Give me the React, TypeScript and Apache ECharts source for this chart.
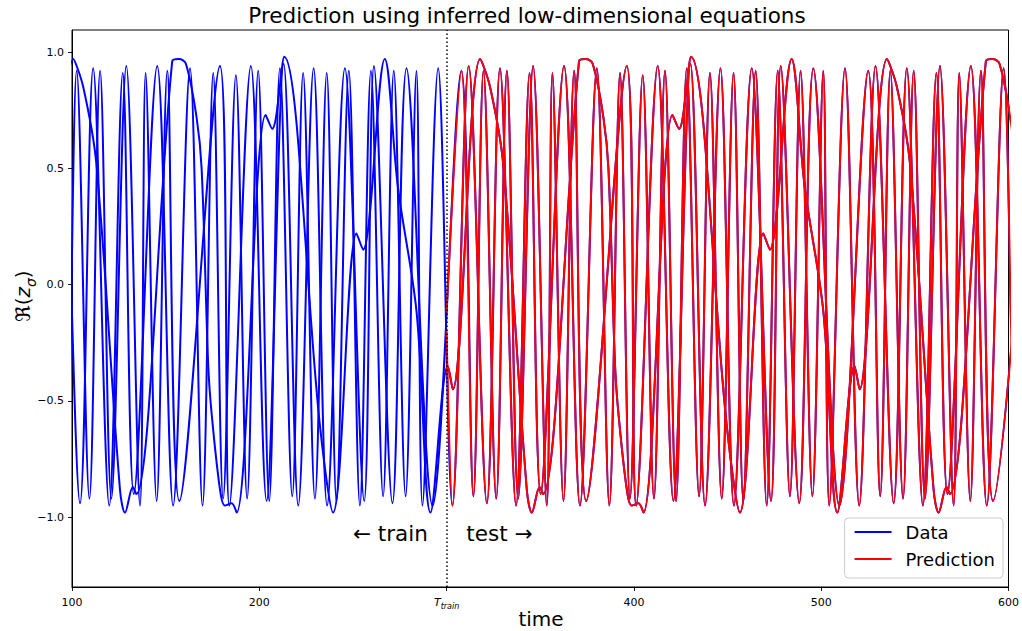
import React, { useEffect, useRef } from "react";
import * as echarts from "echarts";

// ---- Data (time, Re(z_sigma)) ----
// Three oscillating components plotted in the same colour.
const curveATime = [
  78.3, 85.9, 94.6, 104.3, 111.3, 119.9, 127.1, 133.0, 145.5, 154.0, 163.0, 169.7, 175.4, 180.7, 187.5, 193.5,
  199.4, 205.3, 211.0, 217.6, 223.4, 229.7, 236.0, 241.2, 247.8, 253.7, 259.6, 266.1, 271.8, 278.1, 283.9, 287.1,
  295.5, 303.1, 311.8, 321.5, 328.5, 337.1, 344.3, 350.2, 362.7, 371.2, 380.2, 386.9, 392.6, 397.9, 404.7, 410.7,
  416.6, 422.5, 428.2, 434.8, 440.6, 446.9, 453.2, 458.4, 465.0, 470.9, 476.8, 483.3, 489.0, 495.3, 501.1, 504.3,
  512.7, 520.3, 529.0, 538.7, 545.7, 554.3, 561.5, 567.4, 579.9, 588.4, 597.4, 604.1, 609.8,
];
const curveAValue = [
  0.93, -0.95, 0.94, -0.94, 0.93, -0.95, 0.91, -0.9, 0.94, -0.95, 0.93, -0.95, 0.91, -0.92, 0.9, -0.92,
  0.92, -0.93, 0.93, -0.91, 0.91, -0.92, 0.91, -0.93, 0.92, -0.95, 0.92, -0.91, 0.92, -0.91, 0.92, -0.95,
  0.93, -0.95, 0.94, -0.94, 0.93, -0.95, 0.91, -0.9, 0.94, -0.95, 0.93, -0.95, 0.91, -0.92, 0.9, -0.92,
  0.92, -0.93, 0.93, -0.91, 0.91, -0.92, 0.91, -0.93, 0.92, -0.95, 0.92, -0.91, 0.92, -0.91, 0.92, -0.95,
  0.93, -0.95, 0.94, -0.94, 0.93, -0.95, 0.91, -0.9, 0.94, -0.95, 0.93, -0.95, 0.91,
];

const curveBTime = [
  83.4, 86.1, 100.7, 106.0, 113.0, 125.6, 128.3, 132.5, 134.3, 153.5, 157.0, 160.8, 166.5, 169.2, 172.7, 174.5,
  179.0, 181.6, 185.2, 187.9, 203.4, 206.9, 213.3, 232.3, 239.4, 251.9, 255.4, 267.0, 274.0, 284.0, 291.4,
  300.6, 303.3, 317.9, 323.2, 330.2, 342.8, 345.5, 349.7, 351.5, 370.7, 374.2, 378.0, 383.7, 386.4, 389.9, 391.7,
  396.2, 398.8, 402.4, 405.1, 420.6, 424.1, 430.5, 449.5, 456.6, 469.1, 472.6, 484.2, 491.2, 501.2, 508.6,
  517.8, 520.5, 535.1, 540.4, 547.4, 560.0, 562.7, 566.9, 568.7, 587.9, 591.4, 595.2, 600.9, 603.6,
];
const curveBValue = [
  -0.35, -0.45, 0.97, 0.85, 0.52, -0.88, -0.98, -0.87, -0.9, 0.96, 0.97, 0.95, 0.72, 0.5, -0.34, -0.55,
  -0.88, -0.95, -0.94, -0.98, 0.73, 0.67, 0.98, -0.6, -0.98, 0.22, 0.15, 0.97, 0.42, -0.12, -0.98,
  -0.35, -0.45, 0.97, 0.85, 0.52, -0.88, -0.98, -0.87, -0.9, 0.96, 0.97, 0.95, 0.72, 0.5, -0.34, -0.55,
  -0.88, -0.95, -0.94, -0.98, 0.73, 0.67, 0.98, -0.6, -0.98, 0.22, 0.15, 0.97, 0.42, -0.12, -0.98,
  -0.35, -0.45, 0.97, 0.85, 0.52, -0.88, -0.98, -0.87, -0.9, 0.96, 0.97, 0.95, 0.72, 0.5,
];

const curveCTime = [
  75.3, 90.7, 97.1, 102.5, 109.3, 115.0, 121.0, 129.0, 136.3, 139.3, 145.2, 150.9, 157.3, 179.0, 184.0, 195.5,
  203.9, 213.0, 220.8, 229.0, 236.2, 245.7, 256.0, 261.2, 271.1, 278.6,
  292.5, 307.9, 314.3, 319.7, 326.5, 332.2, 338.2, 346.2, 353.5, 356.5, 362.4, 368.1, 374.5, 396.2, 401.2, 412.7,
  421.1, 430.2, 438.0, 446.2, 453.4, 462.9, 473.2, 478.4, 488.3, 495.8,
  509.7, 525.1, 531.5, 536.9, 543.7, 549.4, 555.4, 563.4, 570.7, 573.7, 579.6, 585.3, 591.7, 613.4,
];
const curveCValue = [
  -0.95, 0.92, -0.91, 0.92, -0.92, 0.92, -0.92, 0.94, -0.95, 0.91, -0.93, 0.92, -0.93, 0.94, -0.95, 0.94,
  -0.93, 0.95, -0.95, 0.93, -0.95, 0.93, -0.93, 0.94, -0.94, 0.93,
  -0.95, 0.92, -0.91, 0.92, -0.92, 0.92, -0.92, 0.94, -0.95, 0.91, -0.93, 0.92, -0.93, 0.94, -0.95, 0.94,
  -0.93, 0.95, -0.95, 0.93, -0.95, 0.93, -0.93, 0.94, -0.94, 0.93,
  -0.95, 0.92, -0.91, 0.92, -0.92, 0.92, -0.92, 0.94, -0.95, 0.91, -0.93, 0.92, -0.93, 0.94,
];

// Prediction starts at T_train; its first values (A, B, C) read at the dotted line
const trainTime = 300;
const predictionStartValues = [-0.2, -0.38, -0.12];

const xTickValues = [100, 200, 300, 400, 500, 600];
const yTickValues = [-1, -0.5, 0, 0.5, 1];

const FONT = "DejaVu Sans";

function zip(t: number[], v: number[]): number[][] {
  return t.map((x, i) => [x, v[i]]);
}

export default function App() {
  const ref = useRef<HTMLDivElement>(null);

  useEffect(() => {
    if (!ref.current) return;
    const chart = echarts.init(ref.current, undefined, { renderer: "svg" });

    const curves: [number[], number[]][] = [
      [curveATime, curveAValue],
      [curveBTime, curveBValue],
      [curveCTime, curveCValue],
    ];

    const baseLine = {
      type: "line",
      showSymbol: false,
      symbol: "none",
      smooth: 0.35,
      silent: true,
      clip: true,
    };

    const dataSeries = curves.map(([t, v]) => ({
      ...baseLine,
      name: "Data",
      data: zip(t, v),
      lineStyle: { color: "#0000ff", width: 2 },
      itemStyle: { color: "#0000ff" },
      z: 2,
    }));

    const predSeries: any[] = curves.map(([t, v], i) => ({
      ...baseLine,
      name: "Prediction",
      data: [[trainTime, predictionStartValues[i]], ...zip(t, v).filter((p) => p[0] > trainTime)],
      lineStyle: { color: "#ff0000", width: 1.9 },
      itemStyle: { color: "#ff0000" },
      z: 3,
    }));

    predSeries[2].markLine = {
      silent: true,
      symbol: ["none", "none"],
      label: { show: false },
      lineStyle: { color: "#000000", type: [1.5, 2.5], width: 1.5 },
      data: [{ xAxis: trainTime }],
      z: 5,
    };

    const option: any = {
      animation: false,
      backgroundColor: "#ffffff",
      textStyle: { fontFamily: FONT },
      grid: {
        left: 72,
        right: 13,
        top: 30,
        bottom: 44,
        show: true,
        borderColor: "#000000",
        borderWidth: 1,
        backgroundColor: "transparent",
      },
      xAxis: {
        type: "value",
        min: 100,
        max: 600,
        interval: 100,
        axisLine: { show: true, onZero: false, lineStyle: { color: "#000", width: 1 } },
        axisTick: { show: true, inside: false, length: 4, lineStyle: { color: "#000", width: 0.9 } },
        splitLine: { show: false },
        axisLabel: {
          show: true,
          color: "#000",
          fontFamily: FONT,
          fontSize: 11,
          lineHeight: 16,
          margin: 7,
          showMinLabel: true,
          showMaxLabel: true,
          formatter: (v: number) => (v === trainTime ? "{t|T}{s|train}" : String(v)),
          rich: {
            t: { fontFamily: FONT, fontStyle: "italic", fontSize: 11, lineHeight: 16, color: "#000" },
            s: {
              fontFamily: FONT,
              fontStyle: "italic",
              fontSize: 8,
              lineHeight: 9,
              verticalAlign: "bottom",
              color: "#000",
            },
          },
        },
      },
      yAxis: {
        type: "value",
        min: -1.3,
        max: 1.095,
        axisLine: { show: true, onZero: false, lineStyle: { color: "#000", width: 1 } },
        axisTick: {
          show: true,
          inside: false,
          length: 4,
          customValues: yTickValues,
          lineStyle: { color: "#000", width: 0.9 },
        },
        splitLine: { show: false },
        axisLabel: {
          show: true,
          color: "#000",
          fontFamily: FONT,
          fontSize: 11,
          margin: 8,
          customValues: yTickValues,
          formatter: (v: number) => (v < 0 ? "\u2212" : "") + Math.abs(v).toFixed(1),
        },
      },
      legend: {
        show: true,
        data: ["Data", "Prediction"],
        orient: "vertical",
        right: 19,
        bottom: 53,
        itemWidth: 37,
        itemHeight: 14,
        itemGap: 9,
        padding: [5, 8, 10, 9],
        selectedMode: false,
        backgroundColor: "rgba(255,255,255,0.85)",
        borderColor: "#cccccc",
        borderWidth: 1,
        borderRadius: 4,
        itemStyle: { opacity: 0 },
        lineStyle: { width: 2 },
        textStyle: { fontFamily: FONT, fontSize: 18, color: "#000", padding: [0, 0, 0, 9] },
      },
      series: [...dataSeries, ...predSeries],
    };

    chart.setOption(option);

    const trainPos = chart.convertToPixel({ xAxisIndex: 0, yAxisIndex: 0 }, [290, -1.07]) as number[];
    const testPos = chart.convertToPixel({ xAxisIndex: 0, yAxisIndex: 0 }, [310.5, -1.07]) as number[];

    chart.setOption({
      graphic: [
        {
          type: "text",
          x: 527,
          y: 15.5,
          silent: true,
          style: {
            text: "Prediction using inferred low-dimensional equations",
            fill: "#000",
            font: `21.5px "${FONT}"`,
            align: "center",
            verticalAlign: "middle",
            textAlign: "center",
            textVerticalAlign: "middle",
          },
        },
        {
          type: "text",
          x: 541,
          y: 619,
          silent: true,
          style: {
            text: "time",
            fill: "#000",
            font: `20px "${FONT}"`,
            align: "center",
            verticalAlign: "middle",
            textAlign: "center",
            textVerticalAlign: "middle",
          },
        },
        {
          type: "text",
          x: 23,
          y: 296,
          rotation: Math.PI / 2,
          silent: true,
          style: {
            text: "{r|\u211C(}{z|z}{s|\u03C3}{r|)}",
            fill: "#000",
            align: "center",
            verticalAlign: "middle",
            textAlign: "center",
            textVerticalAlign: "middle",
            rich: {
              r: { fontFamily: FONT, fontSize: 20, lineHeight: 30, fill: "#000", color: "#000" },
              z: { fontFamily: FONT, fontSize: 20, lineHeight: 30, fontStyle: "italic", fill: "#000", color: "#000" },
              s: {
                fontFamily: FONT,
                fontSize: 14,
                lineHeight: 14,
                fontStyle: "italic",
                verticalAlign: "bottom",
                fill: "#000",
                color: "#000",
              },
            },
          },
        },
        {
          type: "text",
          x: trainPos[0],
          y: trainPos[1],
          silent: true,
          style: {
            text: "\u2190 train",
            fill: "#000",
            font: `21.5px "${FONT}"`,
            align: "right",
            verticalAlign: "middle",
            textAlign: "right",
            textVerticalAlign: "middle",
          },
        },
        {
          type: "text",
          x: testPos[0],
          y: testPos[1],
          silent: true,
          style: {
            text: "test \u2192",
            fill: "#000",
            font: `21.5px "${FONT}"`,
            align: "left",
            verticalAlign: "middle",
            textAlign: "left",
            textVerticalAlign: "middle",
          },
        },
      ],
    });

    return () => {
      chart.dispose();
    };
  }, []);

  return (
    <div
      ref={ref}
      style={{ position: "fixed", left: 0, top: 0, width: 1022, height: 631, background: "#fff" }}
    />
  );
}
